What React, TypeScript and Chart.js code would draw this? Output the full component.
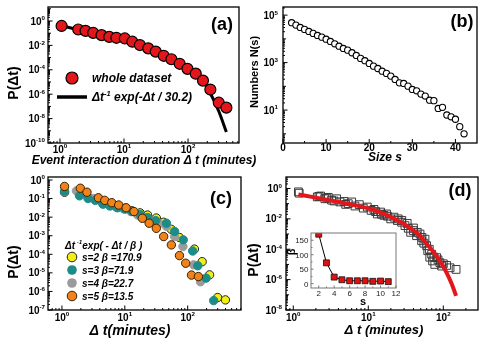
import React, { useEffect, useRef } from 'react';
import { Chart, registerables } from 'chart.js';

Chart.register(...registerables);

const PAGE_W = 485;
const PAGE_H = 341;
const FONT = '"Liberation Sans", Arial, Helvetica, "DejaVu Sans", sans-serif';

// ---------------- Panel (a) ----------------
const aDuration = [1.06, 1.93, 2.51, 3.3, 4.46, 5.88, 7.6, 10.3, 13.5, 17.7, 23.9, 31.3, 41.7, 55, 74, 98, 132, 171, 223, 302, 397];
const aProbability = [0.39, 0.2, 0.155, 0.107, 0.069, 0.05, 0.042, 0.037, 0.02, 0.0107, 0.0057, 0.0031, 0.0014, 7.3e-4, 3.1e-4, 1.2e-4, 4.8e-5, 1.3e-5, 2.4e-6, 2e-7, 7.9e-8];
const aFitDuration = [1.0, 1.93, 2.51, 3.3, 4.46, 5.88, 7.6, 10.3, 13.5, 17.7, 23.9, 31.3, 41.7, 55, 74, 98, 132, 171, 223, 302, 397];
const aFitProbability = [0.45, 0.19, 0.14, 0.1, 0.07, 0.052, 0.04, 0.028, 0.018, 0.01, 0.0055, 0.003, 0.0015, 8e-4, 3.5e-4, 1.4e-4, 5e-5, 1.3e-5, 1.2e-6, 4e-8, 8e-10];
const aXLabelExps = [0, 1, 2];
const aYLabelExps = [0, -2, -4, -6, -8, -10];

// ---------------- Panel (b) ----------------
const bSize = [2, 3, 4, 5, 6, 7, 8, 9, 10, 11, 12, 13, 14, 15, 16, 17, 18, 19, 20, 21, 22, 23, 24, 25, 26, 27, 28, 29, 30, 31, 32, 33, 34, 35, 36, 37, 38, 39, 40, 41, 42];
const bNumbers = [47900, 38000, 30300, 25000, 20500, 17000, 13900, 11800, 9700, 7800, 6200, 4900, 3950, 3350, 2600, 2000, 1500, 1200, 920, 710, 565, 435, 350, 270, 195, 140, 132, 102, 74, 65, 47, 39, 26, 25, 11.7, 13, 6.2, 5.2, 4.1, 2.0, 1.0];
const bXTickLabels = [0, 10, 20, 30, 40];
const bXMinorTicks = [5, 15, 25, 35];
const bYLabelExps = [5, 3, 1];

// ---------------- Panel (c) ----------------
const cX2 = [1.1, 1.9, 2.6, 3.4, 4.5, 5.8, 7.6, 10, 13, 17.5, 23, 31.7, 41.5, 55, 74, 128, 170, 223, 300, 398];
const cY2 = [0.22, 0.2, 0.12, 0.09, 0.055, 0.045, 0.035, 0.03, 0.022, 0.017, 0.013, 0.009, 0.0053, 0.0022, 8e-4, 1.9e-4, 4e-5, 7.8e-6, 4.7e-7, 3.5e-7];
const cX3 = [1.1, 1.9, 2.6, 3.4, 4.5, 5.8, 7.6, 10, 13, 17.5, 23, 31, 46, 62, 85, 120, 145, 196, 259];
const cY3 = [0.25, 0.14, 0.1, 0.08, 0.05, 0.04, 0.032, 0.027, 0.02, 0.014, 0.0095, 0.0065, 0.0047, 0.0017, 6e-4, 1.5e-4, 2.4e-5, 5.2e-6, 3.2e-7];
const cX4 = [1.7, 2.4, 3.2, 4.2, 5.5, 7.2, 9.5, 12.5, 16, 21, 27, 35, 46, 62, 84, 124, 160];
const cY4 = [0.26, 0.16, 0.1, 0.07, 0.05, 0.036, 0.028, 0.02, 0.013, 0.009, 0.006, 0.0045, 0.0032, 9e-4, 2.6e-4, 2.7e-5, 3.3e-6];
const cX5 = [1.1, 1.96, 2.5, 3.8, 4.8, 6.2, 8, 10.5, 14, 19, 24.4, 31.7, 41.5, 55, 74, 93, 115, 148];
const cY5 = [0.45, 0.36, 0.22, 0.11, 0.08, 0.06, 0.045, 0.032, 0.02, 0.0087, 0.0047, 0.0025, 9e-4, 3.2e-4, 8.5e-5, 3.3e-5, 7.6e-6, 6.3e-6];
const cLegendLabels = ['s=2 β =170.9', 's=3 β=71.9', 's=4 β=22.7', 's=5 β=13.5'];
const cXLabelExps = [0, 1, 2];
const cYLabelExps = [0, -1, -2, -3, -4, -5, -6, -7];

// ---------------- Panel (d) ----------------
const dX = [1.17, 1.2, 2.09, 2.2, 2.31, 2.64, 2.8, 2.93, 3.24, 3.5, 3.78, 4.19, 4.74, 5.0, 5.41, 6.0, 6.64, 7.59, 8.58, 9.7, 10.9, 11.9, 12.5, 13.2, 14.6, 15, 16.2, 17.5, 18, 19.9, 22, 24.4, 25, 27.8, 28, 30.8, 33, 34.1, 36.7, 39.8, 40, 44, 45, 48.9, 51.4, 52, 55, 57, 60, 62, 65, 66, 70, 72, 75, 77, 81.5, 85, 90, 95, 100, 111, 123, 148];
const dY = [0.6, 0.49, 0.28, 0.3, 0.32, 0.21, 0.23, 0.26, 0.17, 0.15, 0.21, 0.13, 0.14, 0.09, 0.1, 0.13, 0.07, 0.086, 0.051, 0.06, 0.036, 0.042, 0.03, 0.021, 0.028, 0.02, 0.017, 0.021, 0.015, 0.01, 0.013, 0.0078, 0.01, 0.006, 0.008, 0.0036, 0.005, 0.0024, 0.0013, 0.0017, 0.0025, 7.8e-4, 0.0013, 1e-3, 3.6e-4, 6e-4, 2.5e-4, 4.6e-4, 1.7e-4, 8e-5, 1e-4, 3e-5, 4.7e-5, 1.7e-5, 3e-5, 1e-5, 2.8e-5, 2e-5, 1.3e-5, 7.8e-6, 1.1e-5, 8.6e-6, 6e-6, 4.7e-6];
const dFitX = [1.17, 2, 4, 7, 10, 15, 24, 35, 45, 60, 75, 91, 110, 130, 148];
const dFitY = [0.4, 0.25, 0.13, 0.075, 0.05, 0.025, 0.0085, 0.0028, 0.0011, 2.3e-4, 6e-5, 1.6e-5, 3e-6, 5e-7, 8.5e-8];
const dXLabelExps = [0, 1, 2];
const dYLabelExps = [0, -2, -4, -6, -8];

// ---------------- Inset of (d) ----------------
const insetSize = [2, 3, 4, 5, 6, 7, 8, 9, 10, 11];
const insetBeta = [170.9, 71.9, 22.7, 13.5, 10, 10, 10, 8, 9, 7];
const insetXTicks = [2, 4, 6, 8, 10, 12];
const insetYTicks = [0, 50, 100, 150];

// ---------------- helpers ----------------
type Part = { t: string; sup?: boolean };
type Tick = { v: number; len: number };
type Label = { v: number; parts: Part[] };
type AxisDeco = { ticks: Tick[]; labels: Label[]; size: number; bold: boolean; offset: number; color: string };
type TextItem = {
  parts: Part[]; x: number; y: number; size: number;
  bold?: boolean; italic?: boolean; align?: 'left' | 'center' | 'right'; rotate?: boolean; color?: string;
};

const fontStr = (size: number, bold: boolean, italic: boolean) =>
  `${italic ? 'italic ' : ''}${bold ? 'bold ' : ''}${size}px ${FONT}`;

function drawRich(ctx: CanvasRenderingContext2D, parts: Part[], x: number, yMid: number, size: number,
  bold: boolean, italic: boolean, align: string, color: string) {
  const supSize = size * 0.62;
  const widths = parts.map(p => {
    ctx.font = fontStr(p.sup ? supSize : size, bold, italic);
    return ctx.measureText(p.t).width;
  });
  const total = widths.reduce((s, w) => s + w, 0);
  let cx = align === 'center' ? x - total / 2 : align === 'right' ? x - total : x;
  const base = yMid + size * 0.36;
  ctx.fillStyle = color;
  ctx.textAlign = 'left';
  ctx.textBaseline = 'alphabetic';
  parts.forEach((p, i) => {
    ctx.font = fontStr(p.sup ? supSize : size, bold, italic);
    ctx.fillText(p.t, cx, p.sup ? base - size * 0.42 : base);
    cx += widths[i];
  });
}

function drawText(ctx: CanvasRenderingContext2D, it: TextItem) {
  ctx.save();
  if (it.rotate) {
    ctx.translate(it.x, it.y);
    ctx.rotate(-Math.PI / 2);
    drawRich(ctx, it.parts, 0, 0, it.size, it.bold !== false, !!it.italic, it.align || 'center', it.color || '#000');
  } else {
    drawRich(ctx, it.parts, it.x, it.y, it.size, it.bold !== false, !!it.italic, it.align || 'center', it.color || '#000');
  }
  ctx.restore();
}

function logAxis(min: number, max: number, labelExps: number[], offset: number): AxisDeco {
  const ticks: Tick[] = [];
  const lo = Math.floor(Math.log10(min));
  const hi = Math.ceil(Math.log10(max));
  const inRange = (v: number) => v >= min * 0.9999 && v <= max * 1.0001;
  for (let d = lo; d <= hi; d++) {
    const base = Math.pow(10, d);
    if (inRange(base)) ticks.push({ v: base, len: labelExps.includes(d) ? 4.5 : 3 });
    for (let k = 2; k <= 9; k++) {
      const v = k * base;
      if (inRange(v)) ticks.push({ v, len: 2 });
    }
  }
  const labels = labelExps.map(e => ({ v: Math.pow(10, e), parts: [{ t: '10' }, { t: String(e), sup: true }] }));
  return { ticks, labels, size: 10, bold: true, offset, color: '#000' };
}

function linearAxis(majors: number[], minors: number[], offset: number, size = 10, bold = true, color = '#000', majorLen = 4, minorLen = 2): AxisDeco {
  return {
    ticks: [...majors.map(v => ({ v, len: majorLen })), ...minors.map(v => ({ v, len: minorLen }))],
    labels: majors.map(v => ({ v, parts: [{ t: String(v) }] })),
    size, bold, offset, color,
  };
}

function decor(opts: {
  x: AxisDeco; y: AxisDeco; borderColor: string; borderWidth: number; background?: string;
  texts: TextItem[]; extra?: (ctx: CanvasRenderingContext2D) => void;
}) {
  return {
    id: 'decor',
    beforeDatasetsDraw(chart: any) {
      if (!opts.background) return;
      const a = chart.chartArea;
      const ctx = chart.ctx;
      ctx.save();
      ctx.fillStyle = opts.background;
      ctx.fillRect(a.left, a.top, a.right - a.left, a.bottom - a.top);
      ctx.restore();
    },
    afterDraw(chart: any) {
      const ctx: CanvasRenderingContext2D = chart.ctx;
      const a = chart.chartArea;
      const xs = chart.scales.x;
      const ys = chart.scales.y;
      ctx.save();
      ctx.strokeStyle = opts.borderColor;
      ctx.lineWidth = 1;
      ctx.beginPath();
      for (const t of opts.x.ticks) {
        const px = xs.getPixelForValue(t.v);
        ctx.moveTo(px, a.bottom);
        ctx.lineTo(px, a.bottom - t.len);
      }
      for (const t of opts.y.ticks) {
        const py = ys.getPixelForValue(t.v);
        ctx.moveTo(a.left, py);
        ctx.lineTo(a.left + t.len, py);
      }
      ctx.stroke();
      ctx.lineWidth = opts.borderWidth;
      ctx.strokeRect(a.left, a.top, a.right - a.left, a.bottom - a.top);
      for (const l of opts.x.labels) {
        drawRich(ctx, l.parts, xs.getPixelForValue(l.v), a.bottom + opts.x.offset, opts.x.size, opts.x.bold, false, 'center', opts.x.color);
      }
      for (const l of opts.y.labels) {
        drawRich(ctx, l.parts, a.left - opts.y.offset, ys.getPixelForValue(l.v), opts.y.size, opts.y.bold, false, 'right', opts.y.color);
      }
      if (opts.extra) opts.extra(ctx);
      for (const t of opts.texts) drawText(ctx, t);
      ctx.restore();
    },
  };
}

const pts = (xs: number[], ys: number[]) => xs.map((x, i) => ({ x, y: ys[i] }));
const pad = (b: { l: number; t: number; r: number; b: number }) =>
  ({ left: b.l, top: b.t, right: PAGE_W - b.r, bottom: PAGE_H - b.b });

function baseOptions(box: any, x: any, y: any) {
  return {
    responsive: false,
    animation: false,
    events: [],
    layout: { padding: pad(box) },
    plugins: { legend: { display: false }, tooltip: { enabled: false } },
    scales: { x: { ...x, display: false }, y: { ...y, display: false } },
  };
}

function circle(ctx: CanvasRenderingContext2D, x: number, y: number, r: number, fill: string, stroke: string | null, lw = 1) {
  ctx.beginPath();
  ctx.arc(x, y, r, 0, Math.PI * 2);
  ctx.fillStyle = fill;
  ctx.fill();
  if (stroke) {
    ctx.strokeStyle = stroke;
    ctx.lineWidth = lw;
    ctx.stroke();
  }
}

const RED = '#e3161c';
const YELLOW = '#f3ef12';
const TEAL = '#1d8c89';
const GREY = '#9b9b9b';
const ORANGE = '#f0831a';

// ---------------- configs ----------------
function configA(): any {
  const box = { l: 48, t: 7, r: 239, b: 143 };
  const xr = { min: 0.65, max: 625 };
  const yr = { min: 1e-10, max: 14 };
  return {
    type: 'scatter',
    data: {
      datasets: [
        { data: pts(aDuration, aProbability), pointRadius: 5.5, pointBackgroundColor: RED, pointBorderColor: '#000', pointBorderWidth: 1.2, showLine: false },
        { data: pts(aFitDuration, aFitProbability), showLine: true, borderColor: '#000', borderWidth: 3, pointRadius: 0, cubicInterpolationMode: 'monotone' },
      ],
    },
    options: baseOptions(box, { type: 'logarithmic', ...xr }, { type: 'logarithmic', ...yr }),
    plugins: [decor({
      x: logAxis(xr.min, xr.max, aXLabelExps, 6),
      y: logAxis(yr.min, yr.max, aYLabelExps, 3),
      borderColor: '#000', borderWidth: 1.3,
      texts: [
        { parts: [{ t: '(a)' }], x: 222, y: 24, size: 18 },
        { parts: [{ t: 'whole dataset' }], x: 92, y: 78, size: 12, italic: true, align: 'left' },
        { parts: [{ t: 'Δt' }, { t: '-1', sup: true }, { t: ' exp(-Δt / 30.2)' }], x: 92, y: 97, size: 12, italic: true, align: 'left' },
        { parts: [{ t: 'P(Δt)' }], x: 12.5, y: 83, size: 14, rotate: true },
        { parts: [{ t: 'Event interaction duration Δ t (minutes)' }], x: 144, y: 159.5, size: 12, italic: true },
      ],
      extra: (ctx) => {
        circle(ctx, 72, 78, 6, RED, '#000', 1.2);
        ctx.beginPath();
        ctx.moveTo(57, 97);
        ctx.lineTo(87, 97);
        ctx.strokeStyle = '#000';
        ctx.lineWidth = 3.5;
        ctx.stroke();
      },
    })],
  };
}

function configB(): any {
  const box = { l: 283, t: 7, r: 477, b: 143 };
  const xr = { min: 0, max: 45 };
  const yr = { min: 0.41, max: 2.2e5 };
  return {
    type: 'scatter',
    data: {
      datasets: [
        { data: pts(bSize, bNumbers), pointRadius: 3.1, pointBackgroundColor: '#fff', pointBorderColor: '#000', pointBorderWidth: 1.1 },
      ],
    },
    options: baseOptions(box, { type: 'linear', ...xr }, { type: 'logarithmic', ...yr }),
    plugins: [decor({
      x: linearAxis(bXTickLabels, bXMinorTicks, 4.5),
      y: logAxis(yr.min, yr.max, bYLabelExps, 5),
      borderColor: '#000', borderWidth: 1.3,
      texts: [
        { parts: [{ t: '(b)' }], x: 462, y: 21, size: 18 },
        { parts: [{ t: 'Numbers N(s)' }], x: 254, y: 72, size: 11, rotate: true },
        { parts: [{ t: 'Size s' }], x: 385, y: 156.5, size: 12, italic: true },
      ],
    })],
  };
}

function configC(): any {
  const box = { l: 48, t: 177, r: 241, b: 310 };
  const xr = { min: 0.61, max: 705 };
  const yr = { min: 1e-7, max: 1.45 };
  const legendY = [257, 270, 283, 296];
  const legendFill = [YELLOW, TEAL, GREY, ORANGE];
  const legendStroke = ['#222', null, null, '#3a2000'];
  return {
    type: 'scatter',
    data: {
      datasets: [
        { data: pts(cX5, cY5), pointRadius: 4.2, pointBackgroundColor: ORANGE, pointBorderColor: '#3a2000', pointBorderWidth: 1 },
        { data: pts(cX3, cY3), pointRadius: 4.2, pointBackgroundColor: TEAL, pointBorderColor: TEAL, pointBorderWidth: 1 },
        { data: pts(cX4, cY4), pointRadius: 4.2, pointBackgroundColor: GREY, pointBorderColor: GREY, pointBorderWidth: 1 },
        { data: pts(cX2, cY2), pointRadius: 4.2, pointBackgroundColor: YELLOW, pointBorderColor: '#222', pointBorderWidth: 1 },
      ],
    },
    options: baseOptions(box, { type: 'logarithmic', ...xr }, { type: 'logarithmic', ...yr }),
    plugins: [decor({
      x: logAxis(xr.min, xr.max, cXLabelExps, 7),
      y: logAxis(yr.min, yr.max, cYLabelExps, 3),
      borderColor: '#000', borderWidth: 1.3,
      texts: [
        { parts: [{ t: '(c)' }], x: 221, y: 198, size: 18 },
        { parts: [{ t: 'Δt' }, { t: ' -1', sup: true }, { t: 'exp( - Δt / β )' }], x: 65, y: 245, size: 10, italic: true, align: 'left' },
        ...cLegendLabels.map((s, i) => ({ parts: [{ t: s }], x: 82, y: legendY[i], size: 10, italic: true, align: 'left' as const })),
        { parts: [{ t: 'P(Δt)' }], x: 12.5, y: 262, size: 14, rotate: true },
        { parts: [{ t: 'Δ t(minutes)' }], x: 130, y: 329.5, size: 14, italic: true },
      ],
      extra: (ctx) => {
        legendY.forEach((y, i) => circle(ctx, 72, y, 4.8, legendFill[i], legendStroke[i], 1));
      },
    })],
  };
}

function configD(): any {
  const box = { l: 286, t: 177, r: 478, b: 310 };
  const xr = { min: 0.8, max: 290 };
  const yr = { min: 1e-8, max: 5.7 };
  return {
    type: 'scatter',
    data: {
      datasets: [
        { data: pts(dFitX, dFitY), showLine: true, borderColor: RED, borderWidth: 4, pointRadius: 0, cubicInterpolationMode: 'monotone' },
        { data: pts(dX, dY), pointStyle: 'rect', pointRadius: 5.5, pointBackgroundColor: 'rgba(0,0,0,0)', pointBorderColor: '#3a3a3a', pointBorderWidth: 1 },
      ],
    },
    options: baseOptions(box, { type: 'logarithmic', ...xr }, { type: 'logarithmic', ...yr }),
    plugins: [decor({
      x: logAxis(xr.min, xr.max, dXLabelExps, 7),
      y: logAxis(yr.min, yr.max, dYLabelExps, 4),
      borderColor: '#000', borderWidth: 1.3,
      texts: [
        { parts: [{ t: '(d)' }], x: 460, y: 190, size: 18 },
        { parts: [{ t: 'P(Δt)' }], x: 252.5, y: 260, size: 14, rotate: true },
        { parts: [{ t: 'Δ t (minutes)' }], x: 384, y: 329.5, size: 13, italic: true },
      ],
    })],
  };
}

function configInset(): any {
  const box = { l: 311, t: 233, r: 396, b: 288 };
  const xr = { min: 1, max: 12 };
  const yr = { min: -15, max: 175 };
  return {
    type: 'scatter',
    data: {
      datasets: [
        {
          data: pts(insetSize, insetBeta), showLine: true, borderColor: '#000', borderWidth: 1,
          pointStyle: 'rect', pointRadius: 4.2, pointBackgroundColor: '#e01010', pointBorderColor: '#111', pointBorderWidth: 0.8,
        },
      ],
    },
    options: baseOptions(box, { type: 'linear', ...xr }, { type: 'linear', ...yr }),
    plugins: [decor({
      x: linearAxis(insetXTicks, [3, 5, 7, 9, 11], 5.5, 8, false, '#222', 2.5, 1.5),
      y: linearAxis(insetYTicks, [25, 75, 125], 2.5, 8, false, '#222', 2.5, 1.5),
      borderColor: '#777', borderWidth: 1, background: '#fff',
      texts: [
        { parts: [{ t: 's' }], x: 363, y: 301.5, size: 11 },
        { parts: [{ t: 'β' }], x: 291, y: 252, size: 11, rotate: true },
      ],
    })],
  };
}

export default function App() {
  const refA = useRef<HTMLCanvasElement>(null);
  const refB = useRef<HTMLCanvasElement>(null);
  const refC = useRef<HTMLCanvasElement>(null);
  const refD = useRef<HTMLCanvasElement>(null);
  const refI = useRef<HTMLCanvasElement>(null);

  useEffect(() => {
    document.body.style.margin = '0';
    const charts = [
      new Chart(refA.current!, configA()),
      new Chart(refB.current!, configB()),
      new Chart(refC.current!, configC()),
      new Chart(refD.current!, configD()),
      new Chart(refI.current!, configInset()),
    ];
    return () => charts.forEach(c => c.destroy());
  }, []);

  const cs: React.CSSProperties = { position: 'absolute', left: 0, top: 0, width: PAGE_W, height: PAGE_H };
  return (
    <div style={{ position: 'relative', width: PAGE_W, height: PAGE_H, background: '#fff', overflow: 'hidden' }}>
      <canvas ref={refA} width={PAGE_W} height={PAGE_H} style={cs} />
      <canvas ref={refB} width={PAGE_W} height={PAGE_H} style={cs} />
      <canvas ref={refC} width={PAGE_W} height={PAGE_H} style={cs} />
      <canvas ref={refD} width={PAGE_W} height={PAGE_H} style={cs} />
      <canvas ref={refI} width={PAGE_W} height={PAGE_H} style={cs} />
    </div>
  );
}
